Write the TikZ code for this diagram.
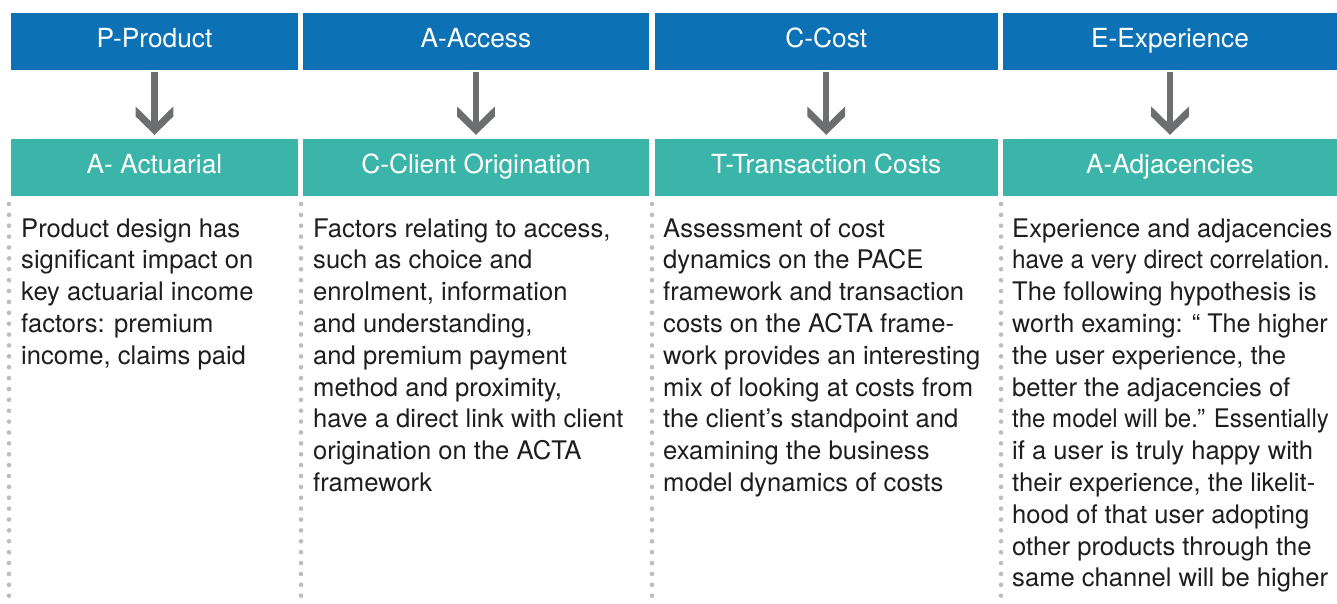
\documentclass[tikz,border=0pt]{standalone}
\usepackage{fontspec}
\usepackage{graphicx}
\setmainfont{TeX Gyre Heros}
\usetikzlibrary{calc}
\definecolor{hblue}{HTML}{0D71B5}
\definecolor{hteal}{HTML}{3BB5A9}
\definecolor{agray}{HTML}{6D6E70}
\definecolor{dotgray}{HTML}{BDBDBD}
\definecolor{bodytext}{HTML}{1E1E1E}
\newcommand\narrowtxt[2]{\scalebox{#1}[1]{#2}}
\begin{document}
\begin{tikzpicture}[x=1pt,y=-1pt,
 hdr/.style={fill=hblue, text=white, inner sep=0pt, minimum height=57pt, text height=18pt, text depth=7pt, font=\fontsize{26.3}{30}\selectfont},
 sub/.style={hdr, fill=hteal},
 body/.style={anchor=base west, inner sep=0pt, text=bodytext, font=\fontsize{25.6}{31.8}\selectfont},
 shaft/.style={draw=agray, line width=6.4pt},
 chevron/.style={fill=agray},
 dotline/.style={draw=dotgray, line width=4.6pt, line cap=round, dash pattern=on 0pt off 10.88pt}]
\useasboundingbox (0,0) rectangle (1337,603);
\fill[white] (0,0) rectangle (1337,603);
% header row
\node[hdr, minimum width=287pt]   (h1) at (154.5,41.5)  {P-Product};
\node[hdr, minimum width=346pt]   (h2) at (476,41.5)    {A-Access};
\node[hdr, minimum width=342.5pt] (h3) at (826.25,41.5) {C-Cost};
\node[hdr, minimum width=334pt]   (h4) at (1170,41.5)   {E-Experience};
% second row
\node[sub, minimum width=287pt]   (t1) at (154.5,167.5)  {A- Actuarial};
\node[sub, minimum width=346pt]   (t2) at (476,167.5)    {C-Client Origination};
\node[sub, minimum width=342.5pt] (t3) at (826.25,167.5) {T-Transaction Costs};
\node[sub, minimum width=334pt]   (t4) at (1170,167.5)   {A-Adjacencies};
% arrows
\foreach \i in {1,2,3,4}{
  \coordinate (tip\i) at ($(t\i.north)+(0,-4)$);
  \draw[shaft] ($(h\i.south)+(0,1.5)$) -- ($(tip\i)+(0,-12)$);
  \fill[chevron] (tip\i) -- ++(-18.8,-18.3) -- ++(0,-10) -- ++(15.6,15.3) -- ++(6.4,0) -- ++(15.6,-15.3) -- ++(0,10) -- cycle;
}
% dotted separators
\foreach \x [count=\k] in {9,301,652,1001}{
  \coordinate (da\k) at (\x,204);
  \coordinate (db\k) at (\x,596);
  \draw[dotline] (da\k) -- (db\k);
}
% column texts
\foreach \t [count=\i] in {{Product design has},{significant impact on},{key actuarial income},{factors: premium},{income, claims paid}}
  \node[body] (ca\i) at (21,237+31.8*\i-31.8) {\t};
\foreach \t [count=\i] in {{Factors relating to access,},{such as choice and},{enrolment, information},{and understanding,},{and premium payment},{method and proximity,},{have a direct link with client},{origination on the ACTA},{framework}}
  \node[body] (cb\i) at (313,237+31.8*\i-31.8) {\t};
\foreach \t [count=\i] in {{Assessment of cost},{dynamics on the PACE},{framework and transaction},{costs on the ACTA frame-},{work provides an interesting},{mix of looking at costs from},{the client’s standpoint and},{examining the business},{model dynamics of costs}}
  \node[body] (cc\i) at (663,237+31.8*\i-31.8) {\t};
\foreach \t [count=\i] in {{Experience and adjacencies},{\narrowtxt{0.95}{have a very direct correlation.}},{The following hypothesis is},{\narrowtxt{0.985}{worth examing: “ The higher}},{the user experience, the},{better the adjacencies of},{\narrowtxt{0.94}{the model will be.” Essentially}},{if a user is truly happy with},{their experience, the likelit-},{hood of that user adopting},{other products through the},{same channel will be higher}}
  \node[body] (cd\i) at (1012,237+31.8*\i-31.8) {\t};
\end{tikzpicture}
\end{document}
